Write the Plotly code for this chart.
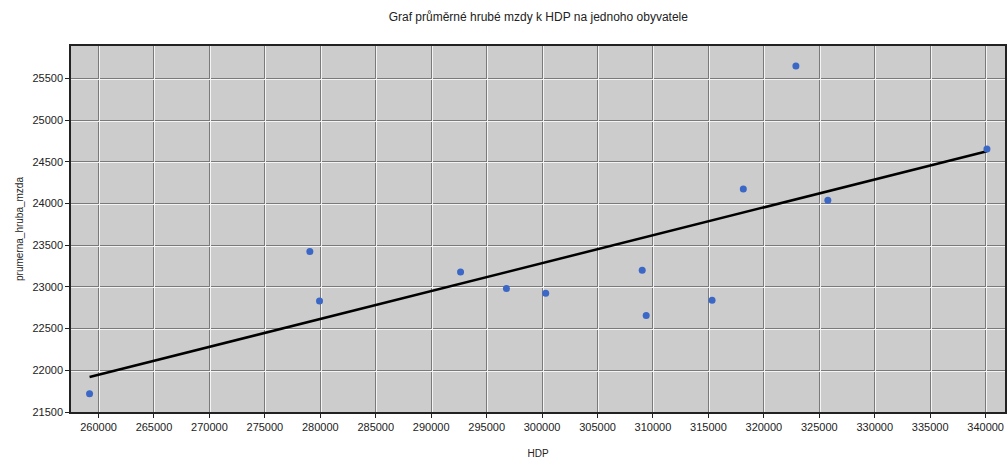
import plotly.graph_objects as go

# Data
hdp = [259190, 279055, 279928, 292647, 296787, 300325, 309028, 309388,
       315329, 318146, 322889, 325770, 340117]
mzda = [21720, 23423, 22831, 23179, 22980, 22923, 23199, 22656,
        22839, 24174, 25649, 24038, 24654]
trend_x = [259190, 340117]
trend_y = [21920, 24626]

x_ticks = list(range(260000, 340001, 5000))
y_ticks = list(range(21500, 25501, 500))

X_RANGE = [257516, 341746]
Y_RANGE = [21500, 25888]
PX_X = (X_RANGE[1] - X_RANGE[0]) / 936.0
PX_Y = (Y_RANGE[1] - Y_RANGE[0]) / 366.0

font = "Liberation Sans, Arial, sans-serif"

fig = go.Figure()
# dummy trace for highlight-grid overlay axes
fig.add_trace(go.Scatter(x=[], y=[], xaxis="x2", yaxis="y2", showlegend=False, hoverinfo="skip"))
fig.add_trace(go.Scatter(x=trend_x, y=trend_y, mode="lines",
                         line=dict(color="black", width=2.5), showlegend=False))
fig.add_trace(go.Scatter(x=hdp, y=mzda, mode="markers",
                         marker=dict(color="#3b67c6", size=7), showlegend=False))

fig.update_layout(
    width=1008, height=459,
    margin=dict(l=71, r=1, t=46, b=47),
    paper_bgcolor="white",
    plot_bgcolor="#cccccc",
    title=dict(text="Graf průměrné hrubé mzdy k HDP na jednoho obyvatele",
               x=0.534, xanchor="center", y=0.963, yanchor="middle",
               font=dict(family=font, size=12, color="#222")),
    font=dict(family=font, size=11, color="#222"),
    xaxis=dict(range=X_RANGE, tickvals=x_ticks, ticktext=[str(v) for v in x_ticks],
               showgrid=True, gridcolor="#7a7a7a", gridwidth=1,
               showline=True, linecolor="#222", linewidth=1.5, mirror=True,
               ticks="outside", ticklen=4, tickcolor="#222",
               zeroline=False,
               title=dict(text="HDP", font=dict(family=font, size=10, color="#222"), standoff=18),
               tickfont=dict(size=11, color="#222")),
    yaxis=dict(range=Y_RANGE, tickvals=y_ticks, ticktext=[str(v) for v in y_ticks],
               showgrid=True, gridcolor="#7a7a7a", gridwidth=1,
               showline=True, linecolor="#222", linewidth=1.5, mirror=True,
               ticks="outside", ticklen=4, tickcolor="#222",
               zeroline=False,
               title=dict(text="prumerna_hruba_mzda", font=dict(family=font, size=10, color="#222"), standoff=7),
               tickfont=dict(size=11, color="#222")),
    xaxis2=dict(overlaying="x", range=[X_RANGE[0] - PX_X, X_RANGE[1] - PX_X],
                tickvals=x_ticks, showgrid=True, gridcolor="#f4f4f4", gridwidth=1,
                showticklabels=False, ticks="", showline=False, zeroline=False,
                side="bottom"),
    yaxis2=dict(overlaying="y", range=[Y_RANGE[0] + PX_Y, Y_RANGE[1] + PX_Y],
                tickvals=y_ticks, showgrid=True, gridcolor="#f4f4f4", gridwidth=1,
                showticklabels=False, ticks="", showline=False, zeroline=False,
                side="left"),
)

fig.write_html("out.html")
